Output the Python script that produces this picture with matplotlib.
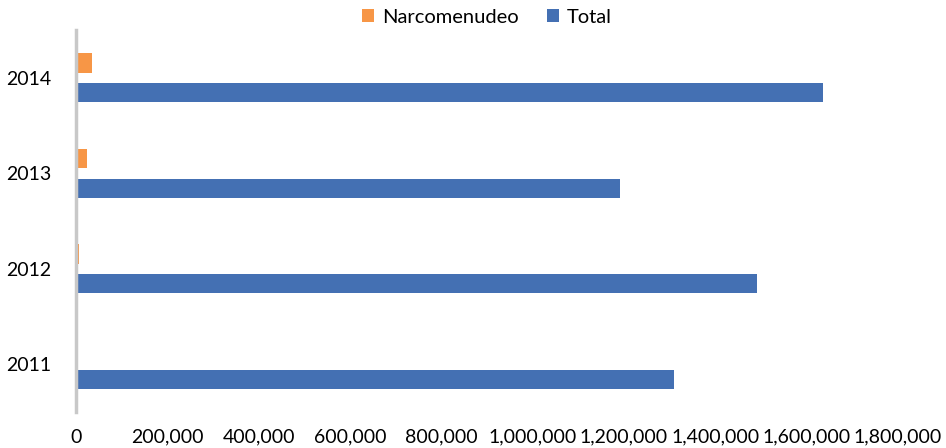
import numpy as np
import matplotlib
matplotlib.use('Agg')
from matplotlib import pyplot as plt
from matplotlib.ticker import FuncFormatter

# datos
anios = ['2011', '2012', '2013', '2014']
narcomenudeo = [2000, 6500, 24000, 35000]
total = [1310000, 1492000, 1192000, 1636000]
xticks = np.arange(0, 1800001, 200000)

plt.rcParams['font.family'] = ['Lato', 'DejaVu Sans']

fig = plt.figure(figsize=(9.46, 4.48), dpi=100)
ax = fig.add_axes([0.0803, 0.080, 0.869, 0.853])

y = np.arange(len(anios))
h = 0.2
ax.barh(y + 0.155, narcomenudeo, height=h, color='#F79646', label='Narcomenudeo')
ax.barh(y - 0.155, total, height=h, color='#4470B3', label='Total')

ax.set_xlim(0, 1800000)
ax.set_ylim(-0.5, 3.5)
ax.set_yticks(y)
ax.set_yticklabels(anios, fontsize=14)
ax.set_xticks(xticks)
ax.xaxis.set_major_formatter(FuncFormatter(lambda v, p: '{:,.0f}'.format(v)))
ax.tick_params(axis='x', length=0, pad=12, labelsize=14)
ax.tick_params(axis='y', length=0, pad=18)

for s in ['top', 'right', 'bottom']:
    ax.spines[s].set_visible(False)
ax.spines['left'].set_color('#c8c8c8')
ax.spines['left'].set_linewidth(2.5)

ax.legend(loc='lower center', bbox_to_anchor=(0.5, 0.99), ncol=2, frameon=False,
          fontsize=14.5, handlelength=0.6, handleheight=0.6, columnspacing=1.4,
          handletextpad=0.4, borderaxespad=0)

fig.savefig('out.png', dpi=100)
